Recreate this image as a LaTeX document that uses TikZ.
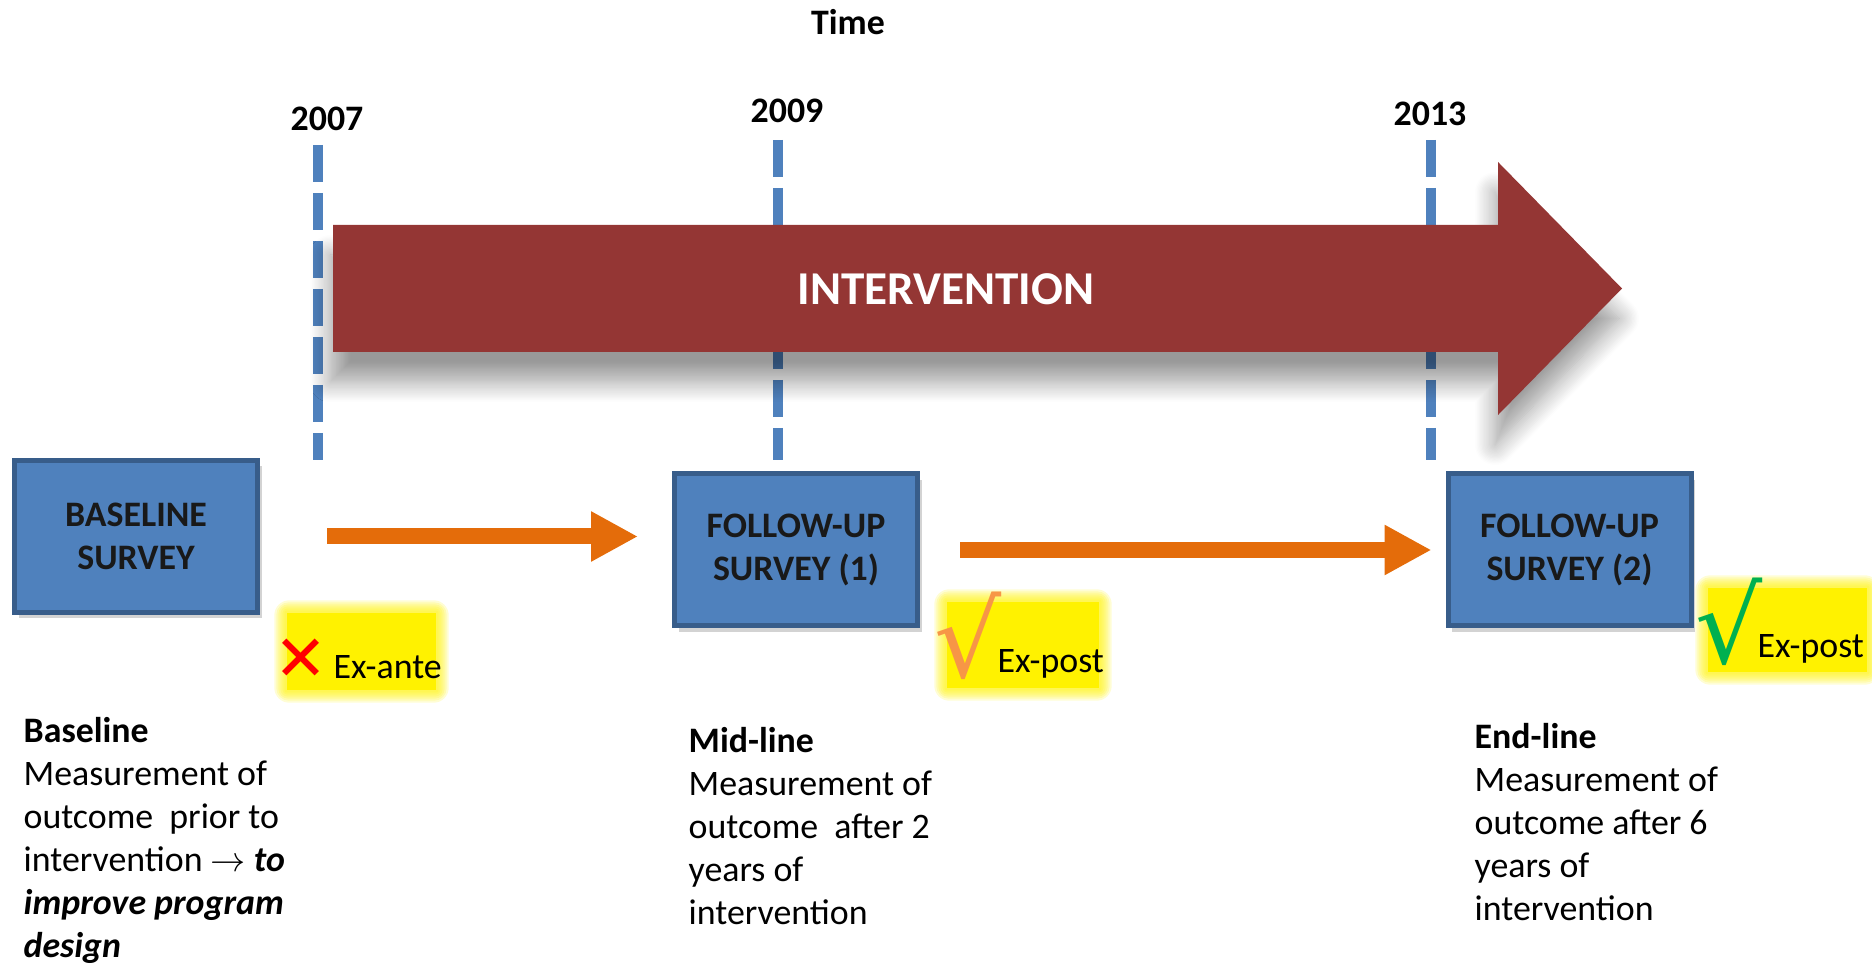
\documentclass[tikz,border=0pt]{standalone}
\usepackage{fontspec}
\setmainfont{Carlito}
\newfontfamily\dejavu{DejaVu Sans}
\usepackage{tikz}
\usetikzlibrary{positioning, arrows.meta, calc, shadows, shadows.blur}
\definecolor{boxblue}{HTML}{4F81BD}
\definecolor{boxedge}{HTML}{385D8A}
\definecolor{intred}{HTML}{943634}
\definecolor{flow}{HTML}{E46C0A}
\definecolor{okorange}{HTML}{F79646}
\definecolor{okgreen}{HTML}{00B050}

\begin{document}
\begin{tikzpicture}[
  x=0.1mm, y=-0.1mm,
  survey/.style={draw=boxedge, line width=0.5mm, fill=boxblue,
    minimum width=24.3mm, minimum height=15.2mm, align=center,
    font=\fontsize{10.2}{12.2}\selectfont\bfseries, text=black!90,
    drop shadow={shadow xshift=0.4mm, shadow yshift=-0.6mm, opacity=0.35}},
  year/.style={font=\fontsize{10.2}{12}\selectfont\bfseries},
  yearline/.style={draw=boxblue, line width=1mm, dash pattern=on 3.7mm off 1.1mm},
  flowarrow/.style={draw=flow, line width=1.6mm, -{Triangle[length=4.7mm, width=4.7mm]}},
  glow/.style={fill=yellow, inner sep=0pt},
  sign/.style={inner sep=0pt},
  tag/.style={anchor=base west, inner sep=0pt, font=\fontsize{10.2}{12.2}\selectfont},
  note/.style={anchor=north west, inner sep=0pt, align=left,
    font=\fontsize{10.2}{12.2}\selectfont},
]
  \useasboundingbox (0,0) rectangle (1872,964);

  \node[year] (time) at (848,22) {Time};
  \node[year] (y07) at (327,119) {2007};
  \node[year] (y09) at (787,111) {2009};
  \node[year] (y13) at (1430,114) {2013};
  \draw[yearline] (318,145) -- (318,460);
  \draw[yearline] (778,140) -- (778,460);
  \draw[yearline] (1431,140) -- (1431,460);

  \fill[intred, blur shadow={shadow xshift=-0.3mm, shadow yshift=-3mm,
      shadow blur radius=2mm, shadow blur steps=16, shadow opacity=40}]
    (333,225) -- (1498,225) -- (1498,162) -- (1622,288.5)
    -- (1498,415) -- (1498,352) -- (333,352) -- cycle;
  \node[font=\fontsize{13.4}{16}\selectfont\bfseries, text=white] (intv)
    at (946,289) {INTERVENTION};

  \node[survey] (base) at (136,536.5) {BASELINE\\SURVEY};
  \node[survey] (fu1) at (796,550) {FOLLOW-UP\\SURVEY (1)};
  \node[survey] (fu2) at (1569.5,550) {FOLLOW-UP\\SURVEY (2)};
  \draw[flowarrow, shorten <=6.7mm, shorten >=3.4mm] (base.east) -- (base.east -| fu1.west);
  \draw[flowarrow, shorten <=4mm, shorten >=1.4mm] (fu1.east) -- (fu2.west);

  \node[glow, minimum width=14.9mm, minimum height=7.7mm] (hl0) at (361.5,651.5) {};
  \node[glow, minimum width=15.2mm, minimum height=8.6mm] (hl1) at (1023,645) {};
  \node[glow, minimum width=15.9mm, minimum height=8.4mm] (hl2) at (1787.5,630) {};
  \foreach \h in {hl0,hl1,hl2}
    \foreach \k in {1,...,6}
      \fill[yellow, opacity=0.17, rounded corners=\k*0.25mm]
        ($(\h.south west)+(-\k*2,\k*2)$) rectangle ($(\h.north east)+(\k*2,-\k*2)$);
  \node[sign, font=\dejavu\fontsize{18}{18}\selectfont, text=red] (no0) at (301,660) {✕};
  \node[tag] (ea) at (333,679) {Ex-ante};
  \node[sign, font=\dejavu\fontsize{30}{30}\selectfont, text=okorange] (ok1) at (968,636) {√};
  \node[tag] (ep1) at (997,672) {Ex-post};
  \node[sign, font=\dejavu\fontsize{30}{30}\selectfont, text=okgreen] (ok2) at (1729,622) {√};
  \node[tag] (ep2) at (1757,658) {Ex-post};

  \node[note] (nb) at (23,717) {\textbf{Baseline}\\Measurement of\\outcome~ prior to\\
    intervention $\rightarrow$ \textbf{\textit{to}}\\\textbf{\textit{improve program}}\\
    \textbf{\textit{design}}};
  \node[note] (nm) at (688,727) {\textbf{Mid-line}\\Measurement of\\outcome~ after 2\\
    years of\\intervention};
  \node[note] (ne) at (1474,723) {\textbf{End-line}\\Measurement of\\outcome after 6\\
    years of\\intervention};
\end{tikzpicture}
\end{document}
